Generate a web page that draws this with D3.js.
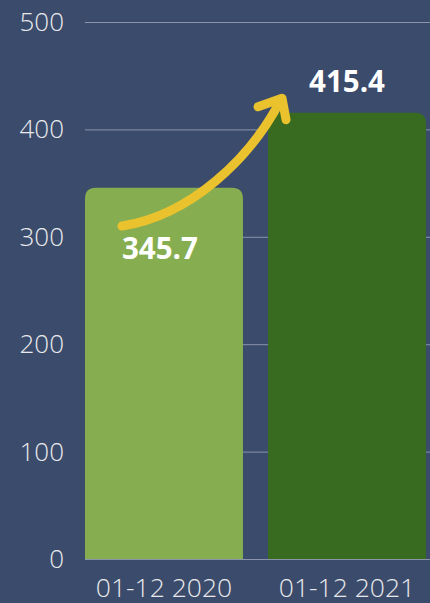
<!DOCTYPE html>
<html>
<head>
<meta charset="utf-8">
<script src="https://cdn.jsdelivr.net/npm/d3@7"></script>
<style>
  html, body { margin: 0; padding: 0; background: #3b4b6b; }
  svg { display: block; font-family: "Open Sans", sans-serif; }
</style>
</head>
<body>
<svg id="chart"></svg>
<script>
const categories = ["01-12 2020", "01-12 2021"];
const values = [345.7, 415.4];
const valueLabels = ["345.7", "415.4"];
const yTicks = [0, 100, 200, 300, 400, 500];
const barColors = ["#86ae51", "#386b20"];

const width = 430,
  height = 603;

const svg = d3
  .select("#chart")
  .attr("width", width)
  .attr("height", height);

svg.append("rect").attr("width", width).attr("height", height).attr("fill", "#3b4b6b");

const x = d3.scaleBand().domain(categories).range([85, 426]).paddingInner(0.137);
const y = d3.scaleLinear().domain([0, 500]).range([559, 22]);

// grid lines
svg
  .append("g")
  .selectAll("line")
  .data(yTicks)
  .enter()
  .append("line")
  .attr("x1", 85)
  .attr("x2", width)
  .attr("y1", (d) => y(d) + 0.5)
  .attr("y2", (d) => y(d) + 0.5)
  .attr("stroke", "#8a94ab")
  .attr("stroke-width", 1);

// y tick labels
svg
  .append("g")
  .selectAll("text")
  .data(yTicks)
  .enter()
  .append("text")
  .attr("x", 64)
  .attr("y", (d) => y(d) + 9)
  .attr("text-anchor", "end")
  .attr("font-size", "26px")
  .attr("font-weight", 300)
  .attr("fill", "#e8e9ec")
  .text((d) => d);

// bars with rounded top corners
const r = 11;
function barPath(i) {
  const x0 = x(categories[i]),
    x1 = x0 + x.bandwidth(),
    top = y(values[i]),
    bottom = y(0);
  return `M${x0},${bottom}V${top + r}Q${x0},${top} ${x0 + r},${top}H${x1 - r}Q${x1},${top} ${x1},${top + r}V${bottom}Z`;
}

svg
  .append("g")
  .selectAll("path")
  .data(values)
  .enter()
  .append("path")
  .attr("d", (d, i) => barPath(i))
  .attr("fill", (d, i) => barColors[i]);

// x labels
svg
  .append("g")
  .selectAll("text")
  .data(categories)
  .enter()
  .append("text")
  .attr("x", (d) => x(d) + x.bandwidth() / 2)
  .attr("y", 597)
  .attr("text-anchor", "middle")
  .attr("font-size", "26.5px")
  .attr("font-weight", 300)
  .attr("fill", "#e8e9ec")
  .text((d) => d);

// yellow arrow
const xa = x(categories[0]),
  xb = x(categories[1]);
const arrow = d3.path();
arrow.moveTo(xa + 37, y(310));
arrow.bezierCurveTo(xa + 105, y(320), xa + 165, y(372), xb + 13, y(428));
svg
  .append("path")
  .attr("d", arrow.toString())
  .attr("fill", "none")
  .attr("stroke", "#eac22e")
  .attr("stroke-width", 9)
  .attr("stroke-linecap", "round");

const head = d3.path();
head.moveTo(xb - 10, y(421));
head.lineTo(xb + 14, y(429));
head.lineTo(xb + 18, y(409));
svg
  .append("path")
  .attr("d", head.toString())
  .attr("fill", "none")
  .attr("stroke", "#eac22e")
  .attr("stroke-width", 9)
  .attr("stroke-linecap", "round")
  .attr("stroke-linejoin", "round");

// value labels
svg
  .append("text")
  .attr("x", xa + 37)
  .attr("y", y(values[0]) + 71)
  .attr("font-size", "29.5px")
  .attr("font-weight", 700)
  .attr("fill", "#ffffff")
  .text(valueLabels[0]);

svg
  .append("text")
  .attr("x", xb + x.bandwidth() / 2)
  .attr("y", y(values[1]) - 21)
  .attr("text-anchor", "middle")
  .attr("font-size", "29.5px")
  .attr("font-weight", 700)
  .attr("fill", "#ffffff")
  .text(valueLabels[1]);
</script>
</body>
</html>
